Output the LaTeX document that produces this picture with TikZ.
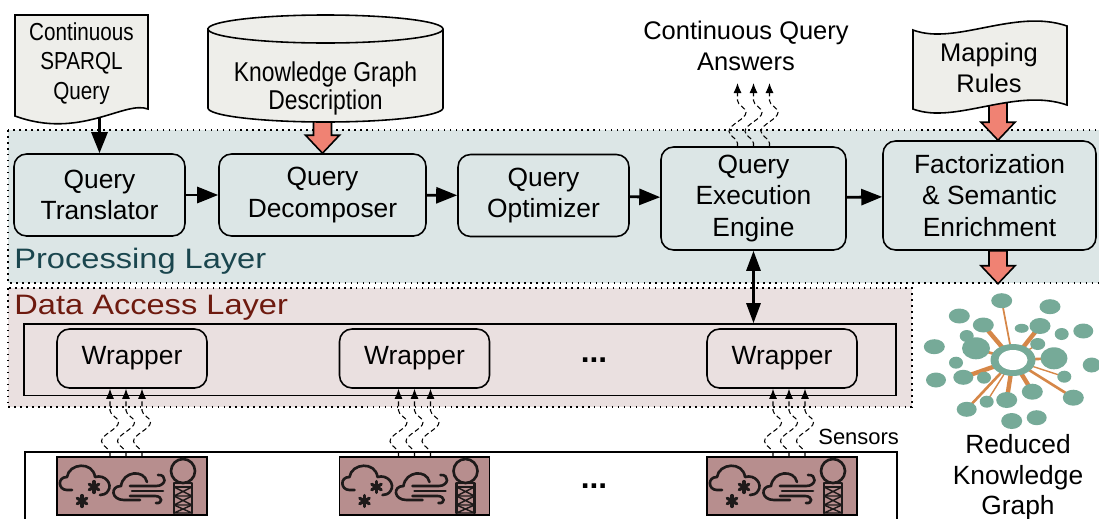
\documentclass[tikz,border=0pt]{standalone}
\usepackage{fontspec}
\setmainfont{Liberation Sans}
\usetikzlibrary{arrows.meta,positioning,decorations.pathmorphing,calc}
\definecolor{procbg}{HTML}{DCE6E6}
\definecolor{dalbg}{HTML}{EAE0E0}
\definecolor{docbg}{HTML}{EEEEEA}
\definecolor{fatred}{HTML}{F08273}
\definecolor{sensbg}{HTML}{B78E8E}
\definecolor{kgteal}{HTML}{76AA98}
\definecolor{kgorange}{HTML}{D68748}
\definecolor{proctext}{HTML}{1A464E}
\definecolor{daltext}{HTML}{6E1A0F}
\definecolor{iconink}{HTML}{1E1A1A}
% narrow multi-line label for the input shapes
\newcommand{\narrow}[1]{\scalebox{0.84}[1]{\begin{tabular}{@{}c@{}}#1\end{tabular}}}

\tikzset{
  % block arrow pointing down, origin at its tip, #1 = total length
  fatdown/.pic={
    \filldraw[draw=black, fill=fatred, line width=0.9pt, line join=miter]
      (0,0) -- (-17,-18) -- (-9,-18) -- (-9,-#1) -- (9,-#1) -- (9,-18) -- (17,-18) -- cycle;
  },
  % weather / wind / water-tower glyphs of one sensor box, drawn around its centre
  sensoricons/.pic={
    \begin{scope}[draw=iconink, line width=1.5pt, line cap=round, line join=round]
    % snow cloud
    \draw (-60,4) -- (-65,4) .. controls (-74,4) and (-75,-9) .. (-65,-9)
          .. controls (-63,-23) and (-39,-25) .. (-37,-9)
          .. controls (-27,-12) and (-19,-2) .. (-24,5)
          .. controls (-26,8) and (-29,9) .. (-32,9);
    \foreach \cx/\cy in {-38/1, -50/15}
      \foreach \a in {90,30,150}
        \draw[line width=1.8pt] (\cx,\cy) +(\a:5.5) -- +(\a+180:5.5);
    % wind cloud
    \draw (8,14) -- (-8,14) .. controls (-21,14) and (-22,0) .. (-11,0)
          .. controls (-9,-15) and (12,-17) .. (15,-4);
    \draw (-2,0) -- (24,0) .. controls (35,0) and (35,-12) .. (26,-11);
    \draw (0,5) -- (31,5);
    \draw (-2,10) -- (23,10) .. controls (31,10) and (31,18) .. (24,17);
    % water tower
    \draw (51,-15) circle [radius=12];
    \draw[line width=1.2pt] (42,-3) rectangle (60,1);
    \draw[line width=1.3pt] (42,1) -- (42,27) (60,1) -- (60,27);
    \foreach \ya/\yb in {1/10, 10/19, 19/27}
      \draw[line width=0.8pt] (42,\ya) -- (60,\yb) (60,\ya) -- (42,\yb) (42,\yb) -- (60,\yb);
    \end{scope}
  }
}

\begin{document}
\begin{tikzpicture}[
  x=0.02cm, y=-0.02cm,
  font=\fontsize{15}{18}\selectfont,
  box/.style={draw, line width=0.9pt, rounded corners=0.25cm, align=center, inner sep=2pt},
  proc/.style={box, fill=procbg, minimum height=1.64cm},
  wrap/.style={box, minimum width=3cm, minimum height=1.18cm},
  sensbox/.style={draw, line width=1pt, fill=sensbg, minimum width=3cm, minimum height=1.16cm},
  layer/.style={draw, line width=0.9pt, dash pattern=on 0.9pt off 2.5pt},
  lbl/.style={inner sep=0pt, align=center},
  laylbl/.style={inner sep=0pt, anchor=base west, font=\fontsize{16}{19}\selectfont},
  docshape/.style={draw, line width=0.9pt, fill=docbg},
  arr/.style={-{Triangle[length=0.42cm,width=0.32cm]}, line width=1.6pt},
  biarr/.style={arrows={Triangle[length=0.4cm,width=0.28cm]-Triangle[length=0.4cm,width=0.28cm]}, line width=1.6pt},
  wavy/.style={-{Latex[length=0.2cm,width=0.16cm]}, line width=0.6pt,
    dash pattern=on 2.8pt off 1.7pt, decorate,
    decoration={snake, amplitude=0.17cm, segment length=0.76cm, pre length=0.06cm, post length=0.16cm}},
  kgedge/.style={draw=kgorange},
  kgnode/.style={fill=kgteal},
]
\useasboundingbox (0,0) rectangle (1099,518);

% ---- the two layers ----
\draw[layer, fill=procbg] (8,130) rectangle (1110,283);
\draw[layer, fill=dalbg] (8,288) rectangle (912,407);
\node[laylbl, text=proctext] (proclbl) at (14,268) {\scalebox{1.16}[1]{Processing Layer}};
\node[laylbl, text=daltext] (dallbl) at (14,314) {\scalebox{1.16}[1]{Data Access Layer}};

% ---- processing pipeline ----
\node[proc, minimum width=3.42cm] (trans) at (99.5,195) {Query\\Translator};
\node[proc, minimum width=4.14cm] (dec) at (322.5,195) {Query\\Decomposer};
\node[proc, minimum width=3.42cm] (opt) at (543.5,195.5) {Query\\Optimizer};
\node[proc, minimum width=3.7cm, minimum height=2.06cm] (eng) at (753.5,198.5) {Query\\Execution\\Engine};
\node[proc, minimum width=4.26cm, minimum height=2.18cm] (fact) at (989.5,195.5) {Factorization\\\& Semantic\\Enrichment};

\draw[arr] (trans) -- (dec);
\draw[arr] (dec) -- (opt);
\draw[arr] (opt) -- (eng);
\draw[arr] (eng) -- (fact);

% ---- inputs on top (block arrows first, the shapes cover their tails) ----
\pic at (dec.north) {fatdown=40};
\pic at ([xshift=0.17cm]fact.north) {fatdown=40};

\draw[docshape] (15,15) -- (148,15) -- (148,109)
  .. controls (125,100) and (80,140) .. (15,116) -- cycle;
\node[lbl, font=\fontsize{14}{17}\selectfont] (sparql) at (81.5,64) {\narrow{Continuous\\SPARQL\\Query}};
\coordinate (sparqlbot) at (99.5,118);
\draw[arr] (sparqlbot) -- (trans.north);

\draw[docshape] (208,29) -- (208,108) arc[start angle=180, end angle=0, x radius=117.5, y radius=14]
  -- (443,29) arc[start angle=0, end angle=-180, x radius=117.5, y radius=14] -- cycle;
\draw[line width=0.9pt] (208,29) arc[start angle=180, end angle=0, x radius=117.5, y radius=14];
\node[lbl, font=\fontsize{15.5}{16}\selectfont] (kgdesc) at (325.5,90) {\narrow{Knowledge Graph\\Description}};

\draw[docshape] (913,30) .. controls (955,46) and (1015,8) .. (1067,26) -- (1067,105)
  .. controls (1015,87) and (955,125) .. (913,109) -- cycle;
\node[lbl, font=\fontsize{14.5}{17.5}\selectfont] (maprules) at (989,68) {Mapping\\Rules};

% ---- answers stream out of the engine ----
\node[lbl, font=\fontsize{14.5}{18}\selectfont] (answers) at (746,46) {Continuous Query\\Answers};
\coordinate (anstip) at (753.5,83);
\foreach \dx in {-16,0,16}
  \draw[wavy] ([xshift=\dx*0.2mm]eng.north) -- ([xshift=\dx*0.2mm]anstip);

% ---- data access layer ----
\node[draw, line width=0.9pt, minimum width=17.44cm, minimum height=1.43cm] (wrapbox) at (460,359.75) {};
\node[wrap] (wrap1) at (132,358.5) {Wrapper};
\node[wrap] (wrap2) at (414.5,358.5) {Wrapper};
\node[wrap] (wrap3) at (782,358.5) {Wrapper};
\node[lbl, font=\fontsize{18}{18}\selectfont\bfseries] (wdots) at (594,360) {...};

\draw[biarr] (eng.south) -- (eng.south |- wrapbox.north);

% ---- sensors ----
\draw[line width=0.9pt, fill=white] (25,452) rectangle (897,540);
\node[sensbox] (sens1) at (132,486) {};
\node[sensbox] (sens2) at (414.5,486) {};
\node[sensbox] (sens3) at (782,486) {};
\foreach \k in {1,2,3}
  \pic at (sens\k) {sensoricons};
\node[lbl, font=\fontsize{18}{18}\selectfont\bfseries] (sdots) at (594,486) {...};

\foreach \k/\s in {1/-6, 2/0, 3/7}
  \foreach \dx in {-16,0,16}
    \draw[wavy] ([xshift=(\dx+\s)*0.2mm]sens\k.north) -- ([xshift=(\dx+\s)*0.2mm]wrap\k.south);
\node[lbl, font=\fontsize{12.5}{15}\selectfont, anchor=west] (senslbl) at (818,437) {Sensors};

% ---- reduced knowledge graph ----
\pic at ([xshift=0.17cm,yshift=-0.66cm]fact.south) {fatdown=33};
\coordinate (kg) at (1013,360);
\foreach \bx/\by/\lw in {1001.7/300.7/1.0, 983.3/325/2.5, 1040/326/2.5, 976/348.3/1.5,
    963.3/377.3/2.5, 966.7/409.3/1.5, 986.7/401.7/0.8, 1006.7/400/2.5, 1032.3/391.7/2.5,
    1073.3/397.7/1.5, 1064.3/376.7/0.8, 1054/358.3/1.5, 1037.7/344/0.8}
  \draw[kgedge, line width=\lw pt] (kg) -- (\bx,\by);
\foreach \bx/\by/\rx/\ry in {1001.7/300.7/10.5/7.5, 1050/306.7/10.5/7.5, 959.3/316/10.5/7.5,
    983.3/325/10.5/7.5, 1021.7/328.3/7/4.5, 1040/326/10.5/8, 1061.7/334/7/6,
    1083.3/331/10/7.5, 966.7/336/7/6, 976/348.3/14/11, 1037.7/344/7.5/6,
    934.3/346.7/10.5/7.5, 1054/358.3/13.5/11, 1091.7/365/9/7.5, 956/362.7/7/6,
    936/380/10/7.5, 963.3/377.3/10/7.5, 984/377.7/7/6, 1064.3/376.7/7/6,
    1032.3/391.7/10.5/8, 1006.7/400/10.5/8, 1073.3/397.7/10.5/8, 986.7/401.7/7/6,
    966.7/409.3/10/7.5, 1011.7/421/10.5/8, 1036.7/417.7/10/7.5}
  \fill[kgnode] (\bx,\by) ellipse [x radius=\rx, y radius=\ry];
\fill[kgnode] (kg) ellipse [x radius=22.5, y radius=16];
\fill[white] (kg) ellipse [x radius=14.5, y radius=10];
\node[lbl, anchor=north, font=\fontsize{15}{17.5}\selectfont] (kglbl) at (1018,434) {Reduced\\Knowledge\\Graph};
\end{tikzpicture}
\end{document}
